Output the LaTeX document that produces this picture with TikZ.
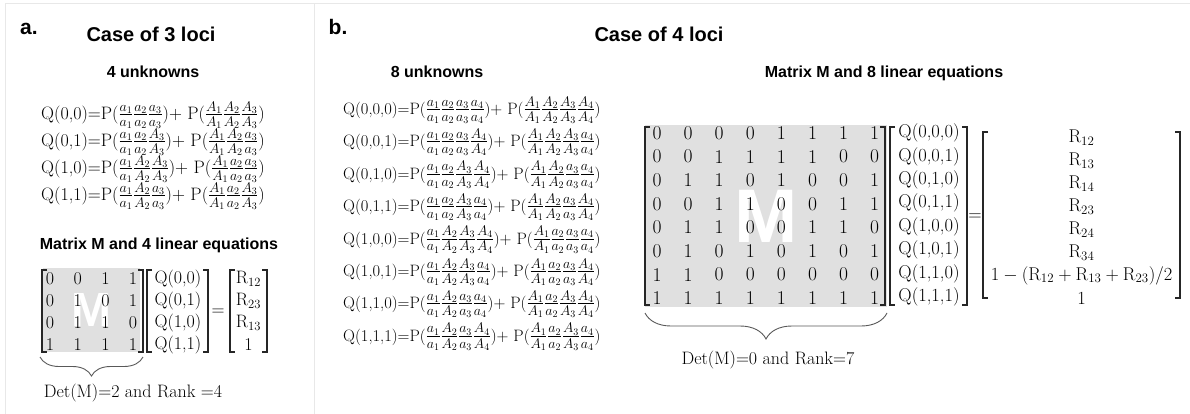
\RequirePackage{fix-cm}
\documentclass[tikz,border=0pt]{standalone}
\usepackage{amsmath}
\usepackage{fontspec}
\setsansfont{Liberation Sans}
\usetikzlibrary{decorations.pathreplacing}
\newcommand{\gf}[1]{\tfrac{#1}{#1}}
\newcommand{\pp}[1]{{\fontsize{20}{22}\selectfont\nulldelimiterspace=1pt$#1$}}
\newcommand{\mylbr}[3]{\draw[brk] (#1+5,#2) -- (#1,#2) -- (#1,#3) -- (#1+5,#3);}
\newcommand{\myrbr}[3]{\draw[brk] (#1-5,#2) -- (#1,#2) -- (#1,#3) -- (#1-5,#3);}
\tikzset{
  panel/.style={font=\sffamily\bfseries\fontsize{21}{24}\selectfont, inner sep=0},
  title/.style={font=\sffamily\bfseries\fontsize{20}{23}\selectfont, inner sep=0},
  sub/.style={font=\sffamily\bfseries\fontsize{16}{19}\selectfont, inner sep=0},
  eqa/.style={font=\fontsize{18}{22}\selectfont, anchor=west, inner sep=0},
  eqb/.style={font=\fontsize{16.5}{19}\selectfont, anchor=west, inner sep=0},
  anum/.style={font=\fontsize{18}{21}\selectfont, inner sep=0},
  bnum/.style={font=\fontsize{19.5}{22}\selectfont, inner sep=0},
  bvec/.style={font=\fontsize{18.5}{21}\selectfont, inner sep=0},
  det/.style={font=\fontsize{18}{21}\selectfont, inner sep=0},
  mbox/.style={fill=black!12, inner sep=0, text=white, font=\sffamily\bfseries},
  brk/.style={line width=1.3pt, black!85},
  frameline/.style={line width=0.8pt, black!9},
  bracestyle/.style={decorate, line width=0.9pt, black!65},
}
\begin{document}
\begin{tikzpicture}[x=1pt,y=-1pt]
\useasboundingbox (0,0) rectangle (1190,414);
\draw[frameline] (5,414) -- (5,3) -- (1190,3);
\draw[frameline] (314,3) -- (314,414);

% ---------------- panel a ----------------
\node[panel] (la) at (29,29) {a.};
\node[title] (ta) at (151,34) {Case of 3 loci};
\node[sub] (ua) at (153,72) {4 unknowns};
\node[eqa] (ea1) at (41,115) {Q(0,0)=P(\pp{\gf{a_1}\gf{a_2}\gf{a_3}})+ P(\pp{\gf{A_1}\gf{A_2}\gf{A_3}})};
\node[eqa] (ea2) at (41,142) {Q(0,1)=P(\pp{\gf{a_1}\gf{a_2}\gf{A_3}})+ P(\pp{\gf{A_1}\gf{A_2}\gf{a_3}})};
\node[eqa] (ea3) at (41,169) {Q(1,0)=P(\pp{\gf{a_1}\gf{A_2}\gf{A_3}})+ P(\pp{\gf{A_1}\gf{a_2}\gf{a_3}})};
\node[eqa] (ea4) at (41,196) {Q(1,1)=P(\pp{\gf{a_1}\gf{A_2}\gf{a_3}})+ P(\pp{\gf{A_1}\gf{a_2}\gf{A_3}})};
\node[sub] (ma) at (159,245) {Matrix M and 4 linear equations};

\node[mbox, minimum width=97pt, minimum height=84pt, font=\sffamily\bfseries\fontsize{48}{50}\selectfont] (Ma) at (91.5,310) {M};
\foreach \row [count=\i from 0] in {{0,0,1,1},{0,1,0,1},{0,1,1,0},{1,1,1,1}} {
  \foreach \v [count=\j from 0] in \row {
    \node[anum] (ma-\i-\j) at ({50+27.7*\j},{279+22*\i}) {\v};
  }
}
\mylbr{42}{270}{352}
\myrbr{143}{270}{352}
\mylbr{147}{270}{352}
\myrbr{208}{270}{352}
\foreach \t [count=\i from 0] in {{Q(0,0)},{Q(0,1)},{Q(1,0)},{Q(1,1)}} {
  \node[anum] (qa-\i) at (178,{279+22*\i}) {\t};
}
\node[anum] (eqa) at (218,312) {=};
\mylbr{230}{270}{352}
\myrbr{267}{270}{352}
\foreach \t [count=\i from 0] in {R$_{12}$,R$_{23}$,R$_{13}$,1} {
  \node[anum] (ra-\i) at (248.5,{279+22*\i}) {\t};
}
\coordinate (bra1) at (143,357);
\coordinate (bra2) at (40,357);
\draw[bracestyle, decoration={brace, amplitude=19pt}] (bra1) -- (bra2);
\node[det] (da) at (133,393) {Det(M)=2 and Rank =4};

% ---------------- panel b ----------------
\node[panel] (lb) at (338,27) {b.};
\node[title] (tb) at (659,34) {Case of 4 loci};
\node[sub] (ub) at (437,72) {8 unknowns};
\node[sub] (mb) at (884,73) {Matrix M and 8 linear equations};
\node[eqb] (eb1) at (343,110) {Q(0,0,0)=P(\pp{\gf{a_1}\gf{a_2}\gf{a_3}\gf{a_4}})+ P(\pp{\gf{A_1}\gf{A_2}\gf{A_3}\gf{A_4}})};
\node[eqb] (eb2) at (343,142.4) {Q(0,0,1)=P(\pp{\gf{a_1}\gf{a_2}\gf{a_3}\gf{A_4}})+ P(\pp{\gf{A_1}\gf{A_2}\gf{A_3}\gf{a_4}})};
\node[eqb] (eb3) at (343,174.8) {Q(0,1,0)=P(\pp{\gf{a_1}\gf{a_2}\gf{A_3}\gf{A_4}})+ P(\pp{\gf{A_1}\gf{A_2}\gf{a_3}\gf{a_4}})};
\node[eqb] (eb4) at (343,207.2) {Q(0,1,1)=P(\pp{\gf{a_1}\gf{a_2}\gf{A_3}\gf{a_4}})+ P(\pp{\gf{A_1}\gf{A_2}\gf{a_3}\gf{A_4}})};
\node[eqb] (eb5) at (343,239.6) {Q(1,0,0)=P(\pp{\gf{a_1}\gf{A_2}\gf{A_3}\gf{A_4}})+ P(\pp{\gf{A_1}\gf{a_2}\gf{a_3}\gf{a_4}})};
\node[eqb] (eb6) at (343,272) {Q(1,0,1)=P(\pp{\gf{a_1}\gf{A_2}\gf{A_3}\gf{a_4}})+ P(\pp{\gf{A_1}\gf{a_2}\gf{a_3}\gf{A_4}})};
\node[eqb] (eb7) at (343,304.4) {Q(1,1,0)=P(\pp{\gf{a_1}\gf{A_2}\gf{a_3}\gf{a_4}})+ P(\pp{\gf{A_1}\gf{a_2}\gf{A_3}\gf{A_4}})};
\node[eqb] (eb8) at (343,336.8) {Q(1,1,1)=P(\pp{\gf{a_1}\gf{A_2}\gf{a_3}\gf{A_4}})+ P(\pp{\gf{A_1}\gf{a_2}\gf{A_3}\gf{a_4}})};

\node[mbox, minimum width=242pt, minimum height=182pt, font=\sffamily\bfseries\fontsize{76}{80}\selectfont] (Mb) at (766,216) {M};
\foreach \row [count=\i from 0] in {{0,0,0,0,1,1,1,1},{0,0,1,1,1,1,0,0},{0,1,1,0,1,0,0,1},{0,0,1,1,0,0,1,1},{0,1,1,0,0,1,1,0},{0,1,0,1,0,1,0,1},{1,1,0,0,0,0,0,0},{1,1,1,1,1,1,1,1}} {
  \foreach \v [count=\j from 0] in \row {
    \node[bnum] (mb-\i-\j) at ({657+31.1*\j},{133+23.6*\i}) {\v};
  }
}
\mylbr{645}{127}{305}
\myrbr{885}{127}{305}
\mylbr{890}{127}{305}
\myrbr{967}{127}{305}
\foreach \t [count=\i from 0] in {{Q(0,0,0)},{Q(0,0,1)},{Q(0,1,0)},{Q(0,1,1)},{Q(1,0,0)},{Q(1,0,1)},{Q(1,1,0)},{Q(1,1,1)}} {
  \node[bvec] (qb-\i) at (929,{133+23.4*\i}) {\t};
}
\node[bvec] (eqb) at (975,217) {=};
\mylbr{983}{132}{298}
\myrbr{1180}{132}{298}
\foreach \t [count=\i from 0] in {R$_{12}$,R$_{13}$,R$_{14}$,R$_{23}$,R$_{24}$,R$_{34}$,{$1-(\mathrm{R}_{12}+\mathrm{R}_{13}+\mathrm{R}_{23})/2$},1} {
  \node[bvec] (rb-\i) at (1081.5,{138+22.9*\i}) {\t};
}
\coordinate (brb1) at (887,313);
\coordinate (brb2) at (645,313);
\draw[bracestyle, decoration={brace, amplitude=26pt}] (brb1) -- (brb2);
\node[det] (db) at (768,360) {Det(M)=0 and Rank=7};
\end{tikzpicture}
\end{document}
